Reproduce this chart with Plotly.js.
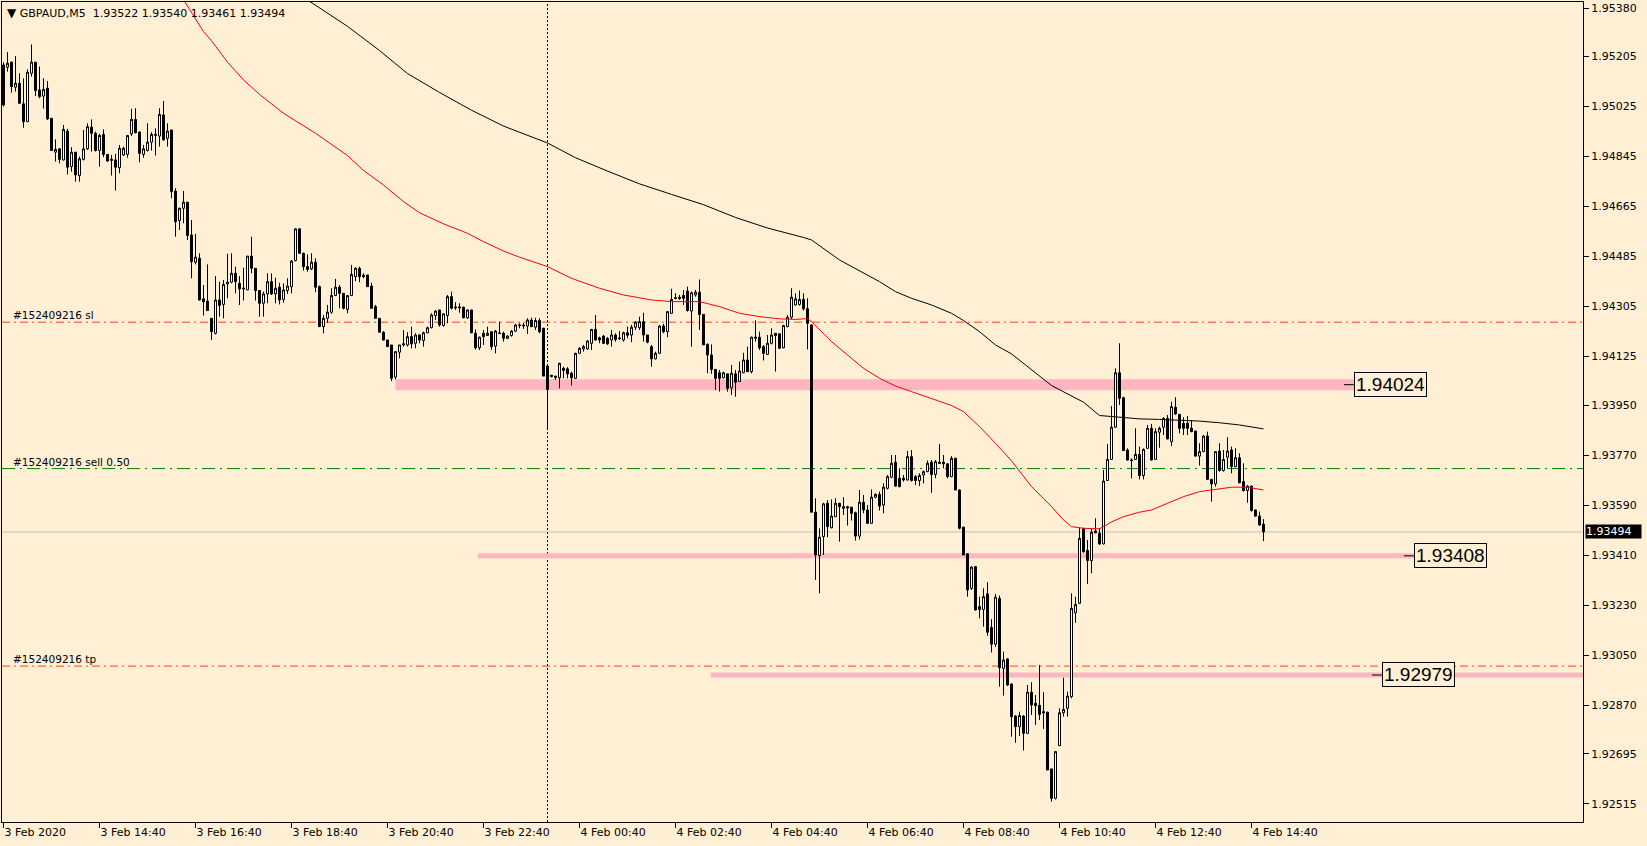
<!DOCTYPE html>
<html><head><meta charset="utf-8">
<script src="https://cdn.plot.ly/plotly-3.0.1.min.js"></script>
<style>html,body{margin:0;padding:0;background:#FFEFD5;} #chart{width:1647px;height:846px;}</style>
</head><body><div id="chart"></div>
<script>
const symbol = 'GBPAUD,M5';

const open = [
1.95175,1.95167,1.95185,1.95095,1.95109,1.95035,1.94971,1.95145,1.95185,1.95085,
1.95063,1.95091,1.94983,1.94861,1.94873,1.94833,1.94937,1.94809,1.94861,1.94777,
1.94835,1.94873,1.94951,1.94929,1.94867,1.94925,1.94853,1.94835,1.94833,1.94805,
1.94851,1.94853,1.94927,1.94979,1.94934,1.94853,1.94867,1.94897,1.94921,1.94919,
1.94995,1.94911,1.94941,1.94721,1.94615,1.94659,1.94681,1.94563,1.94465,1.94479,
1.94333,1.94325,1.94263,1.94209,1.94329,1.94313,1.94387,1.94393,1.94425,1.94389,
1.94369,1.94365,1.94487,1.94443,1.94363,1.94317,1.94351,1.94395,1.94351,1.94375,
1.94331,1.94363,1.94377,1.94471,1.94585,1.94497,1.94449,1.94441,1.94465,1.94377,
1.94233,1.94263,1.94285,1.94345,1.94375,1.94353,1.94295,1.94345,1.94413,1.94443,
1.94418,1.94419,1.94379,1.94305,1.94263,1.94213,1.94185,1.94167,1.94051,1.94141,
1.94167,1.94167,1.94197,1.94173,1.94203,1.94183,1.94211,1.94229,1.94273,1.94293,
1.94237,1.94273,1.94341,1.94304,1.94304,1.94303,1.94265,1.94293,1.94209,1.94157,
1.94209,1.94201,1.94215,1.94163,1.94208,1.94209,1.94191,1.94201,1.94217,1.94237,
1.94239,1.94235,1.94257,1.94231,1.94255,1.94227,1.94091,1.94058,1.94055,1.94049,
1.94083,1.94081,1.94065,1.94047,1.94137,1.94153,1.94153,1.94173,1.94223,1.94193,
1.94199,1.94191,1.94185,1.94203,1.94190,1.94185,1.94211,1.94203,1.94231,1.94229,
1.94251,1.94203,1.94161,1.94117,1.94137,1.94235,1.94215,1.94281,1.94337,1.94339,
1.94345,1.94361,1.94289,1.94347,1.94357,1.94277,1.94169,1.94131,1.94079,1.94067,
1.94049,1.94063,1.94013,1.94063,1.94035,1.94067,1.94113,1.94071,1.94191,1.94195,
1.94161,1.94133,1.94173,1.94209,1.94207,1.94157,1.94233,1.94267,1.94311,1.94313,
1.94331,1.94297,1.94239,1.93565,1.93409,1.93477,1.93597,1.93509,1.93549,1.93597,
1.93585,1.93585,1.93583,1.93563,1.93479,1.93601,1.93573,1.93525,1.93619,1.93629,
1.93591,1.93651,1.93691,1.93745,1.93687,1.93687,1.93681,1.93765,1.93693,1.93679,
1.93699,1.93711,1.93745,1.93701,1.93745,1.93745,1.93739,1.93693,1.93759,1.93645,
1.93511,1.93415,1.93291,1.93369,1.93225,1.93215,1.93271,1.93150,1.93090,1.93255,
1.93003,1.93037,1.92947,1.92831,1.92793,1.92831,1.92769,1.92917,1.92877,1.92870,
1.92847,1.92845,1.92641,1.92535,1.92725,1.92843,1.92859,1.92901,1.93203,1.93237,
1.93505,1.93427,1.93391,1.93497,1.93489,1.93451,1.93679,1.93755,1.93871,1.94067,
1.93977,1.93789,1.93753,1.93755,1.93773,1.93697,1.93795,1.93867,1.93755,1.93853,
1.93871,1.93903,1.93819,1.93943,1.93917,1.93885,1.93885,1.93867,1.93857,1.93767,
1.93783,1.93839,1.93683,1.93667,1.93785,1.93715,1.93763,1.93789,1.93729,1.93761,
1.93675,1.93643,1.93659,1.93573,1.93551,1.93522];

const high = [
1.95185,1.95221,1.95187,1.95207,1.95145,1.95127,1.95159,1.95249,1.95185,1.95169,
1.95127,1.95117,1.94983,1.94907,1.94873,1.94959,1.94945,1.94879,1.94861,1.94845,
1.94941,1.94965,1.94979,1.94935,1.94927,1.94943,1.94853,1.94851,1.94855,1.94887,
1.94881,1.94923,1.95017,1.95019,1.94934,1.94887,1.94965,1.94933,1.94947,1.95019,
1.95045,1.94965,1.94941,1.94731,1.94661,1.94721,1.94681,1.94617,1.94567,1.94497,
1.94383,1.94457,1.94263,1.94415,1.94395,1.94401,1.94495,1.94497,1.94449,1.94415,
1.94445,1.94487,1.94557,1.94443,1.94363,1.94359,1.94425,1.94425,1.94409,1.94391,
1.94389,1.94407,1.94473,1.94587,1.94585,1.94499,1.94493,1.94497,1.94479,1.94381,
1.94275,1.94311,1.94371,1.94405,1.94383,1.94353,1.94347,1.94455,1.94447,1.94449,
1.94425,1.94419,1.94391,1.94311,1.94263,1.94217,1.94185,1.94167,1.94143,1.94167,
1.94221,1.94213,1.94233,1.94209,1.94205,1.94215,1.94233,1.94281,1.94293,1.94293,
1.94281,1.94347,1.94359,1.94321,1.94317,1.94305,1.94295,1.94293,1.94223,1.94197,
1.94221,1.94233,1.94215,1.94221,1.94251,1.94215,1.94202,1.94221,1.94243,1.94245,
1.94247,1.94263,1.94265,1.94265,1.94263,1.94229,1.94095,1.94058,1.94055,1.94103,
1.94089,1.94087,1.94071,1.94139,1.94159,1.94167,1.94185,1.94225,1.94275,1.94197,
1.94203,1.94195,1.94221,1.94209,1.94217,1.94215,1.94233,1.94239,1.94253,1.94269,
1.94283,1.94203,1.94167,1.94143,1.94239,1.94243,1.94289,1.94369,1.94353,1.94347,
1.94365,1.94377,1.94359,1.94365,1.94403,1.94277,1.94173,1.94169,1.94079,1.94077,
1.94071,1.94063,1.94095,1.94077,1.94107,1.94139,1.94161,1.94197,1.94255,1.94215,
1.94167,1.94203,1.94227,1.94209,1.94209,1.94239,1.94275,1.94371,1.94353,1.94363,
1.94353,1.94335,1.94241,1.93615,1.93507,1.93599,1.93609,1.93611,1.93615,1.93599,
1.93619,1.93588,1.93585,1.93567,1.93645,1.93627,1.93591,1.93647,1.93633,1.93639,
1.93669,1.93699,1.93771,1.93771,1.93723,1.93699,1.93785,1.93789,1.93699,1.93705,
1.93715,1.93751,1.93753,1.93753,1.93811,1.93771,1.93741,1.93767,1.93761,1.93647,
1.93513,1.93417,1.93371,1.93371,1.93261,1.93291,1.93313,1.93180,1.93270,1.93265,
1.93063,1.93039,1.92947,1.92835,1.92847,1.92835,1.92943,1.92953,1.92907,1.93015,
1.92917,1.92847,1.92641,1.92705,1.92859,1.92969,1.92919,1.93273,1.93261,1.93509,
1.93509,1.93465,1.93507,1.93543,1.93507,1.93717,1.93811,1.93947,1.94083,1.94173,
1.93981,1.93795,1.93759,1.93867,1.93801,1.93795,1.93879,1.93883,1.93867,1.93873,
1.93907,1.93915,1.93963,1.93979,1.93919,1.93907,1.93911,1.93897,1.93859,1.93813,
1.93843,1.93855,1.93685,1.93785,1.93813,1.93789,1.93835,1.93801,1.93795,1.93777,
1.93741,1.93663,1.93661,1.93575,1.93567,1.93540];

const low = [
1.95025,1.95151,1.95075,1.95079,1.95035,1.94949,1.94969,1.95133,1.95063,1.95055,
1.95018,1.94977,1.94867,1.94827,1.94821,1.94831,1.94781,1.94791,1.94755,1.94755,
1.94831,1.94869,1.94863,1.94863,1.94809,1.94843,1.94827,1.94777,1.94723,1.94785,
1.94847,1.94841,1.94919,1.94929,1.94825,1.94841,1.94863,1.94867,1.94849,1.94881,
1.94903,1.94881,1.94695,1.94557,1.94581,1.94605,1.94545,1.94407,1.94457,1.94327,
1.94273,1.94291,1.94185,1.94205,1.94269,1.94263,1.94335,1.94389,1.94353,1.94311,
1.94327,1.94365,1.94425,1.94327,1.94269,1.94269,1.94317,1.94347,1.94317,1.94313,
1.94319,1.94351,1.94353,1.94468,1.94495,1.94435,1.94431,1.94437,1.94357,1.94233,
1.94209,1.94247,1.94279,1.94343,1.94299,1.94295,1.94281,1.94343,1.94397,1.94393,
1.94407,1.94377,1.94299,1.94261,1.94213,1.94183,1.94161,1.94037,1.94043,1.94119,
1.94161,1.94161,1.94155,1.94155,1.94173,1.94161,1.94209,1.94227,1.94257,1.94233,
1.94233,1.94245,1.94295,1.94293,1.94283,1.94263,1.94261,1.94209,1.94151,1.94149,
1.94167,1.94201,1.94149,1.94137,1.94207,1.94179,1.94188,1.94197,1.94213,1.94227,
1.94225,1.94207,1.94231,1.94221,1.94209,1.94055,1.93861,1.94050,1.94041,1.94011,
1.94047,1.94047,1.94021,1.94045,1.94135,1.94143,1.94149,1.94149,1.94183,1.94173,
1.94171,1.94167,1.94161,1.94179,1.94185,1.94179,1.94191,1.94177,1.94221,1.94221,
1.94179,1.94173,1.94089,1.94115,1.94135,1.94209,1.94195,1.94279,1.94331,1.94329,
1.94311,1.94287,1.94161,1.94341,1.94221,1.94167,1.94065,1.94063,1.94005,1.93999,
1.94047,1.93999,1.93987,1.93981,1.94035,1.94065,1.94071,1.94065,1.94179,1.94149,
1.94111,1.94131,1.94169,1.94071,1.94153,1.94155,1.94231,1.94261,1.94309,1.94309,
1.94291,1.94151,1.93565,1.93321,1.93273,1.93411,1.93475,1.93507,1.93547,1.93459,
1.93555,1.93517,1.93535,1.93463,1.93467,1.93561,1.93523,1.93523,1.93615,1.93571,
1.93561,1.93647,1.93687,1.93657,1.93655,1.93675,1.93679,1.93675,1.93663,1.93659,
1.93669,1.93709,1.93635,1.93687,1.93739,1.93723,1.93687,1.93691,1.93645,1.93503,
1.93411,1.93261,1.93285,1.93211,1.93183,1.93153,1.93120,1.93060,1.93080,1.92937,
1.92905,1.92939,1.92757,1.92735,1.92759,1.92707,1.92767,1.92835,1.92799,1.92817,
1.92785,1.92637,1.92523,1.92531,1.92723,1.92829,1.92829,1.92895,1.93167,1.93235,
1.93419,1.93307,1.93345,1.93489,1.93447,1.93449,1.93677,1.93753,1.93869,1.93951,
1.93787,1.93751,1.93687,1.93753,1.93683,1.93683,1.93793,1.93751,1.93753,1.93797,
1.93843,1.93827,1.93803,1.93915,1.93849,1.93843,1.93843,1.93853,1.93765,1.93733,
1.93781,1.93683,1.93603,1.93657,1.93711,1.93711,1.93723,1.93705,1.93727,1.93669,
1.93639,1.93599,1.93567,1.93549,1.93517,1.93461];

const close = [
1.95031,1.95181,1.95097,1.95109,1.95037,1.94971,1.95149,1.95185,1.95083,1.95061,
1.95087,1.94981,1.94867,1.94871,1.94835,1.94943,1.94807,1.94861,1.94779,1.94837,
1.94873,1.94953,1.94929,1.94867,1.94921,1.94853,1.94829,1.94832,1.94807,1.94875,
1.94875,1.94921,1.94979,1.94931,1.94857,1.94873,1.94897,1.94925,1.94925,1.94997,
1.94905,1.94937,1.94719,1.94611,1.94659,1.94681,1.94561,1.94467,1.94483,1.94329,
1.94323,1.94291,1.94215,1.94329,1.94309,1.94385,1.94393,1.94425,1.94395,1.94369,
1.94371,1.94487,1.94443,1.94363,1.94317,1.94351,1.94395,1.94351,1.94371,1.94329,
1.94365,1.94379,1.94469,1.94585,1.94497,1.94449,1.94439,1.94465,1.94375,1.94233,
1.94263,1.94285,1.94345,1.94375,1.94353,1.94299,1.94345,1.94421,1.94443,1.94413,
1.94413,1.94377,1.94299,1.94263,1.94213,1.94185,1.94161,1.94047,1.94143,1.94167,
1.94171,1.94197,1.94171,1.94203,1.94185,1.94211,1.94229,1.94275,1.94289,1.94239,
1.94279,1.94341,1.94299,1.94301,1.94301,1.94265,1.94293,1.94211,1.94157,1.94195,
1.94197,1.94209,1.94161,1.94217,1.94210,1.94191,1.94199,1.94217,1.94239,1.94239,
1.94236,1.94257,1.94233,1.94255,1.94215,1.94055,1.94007,1.94054,1.94051,1.94101,
1.94075,1.94063,1.94049,1.94137,1.94155,1.94161,1.94181,1.94223,1.94185,1.94185,
1.94173,1.94171,1.94203,1.94187,1.94192,1.94211,1.94202,1.94231,1.94249,1.94251,
1.94203,1.94177,1.94117,1.94137,1.94235,1.94215,1.94287,1.94331,1.94335,1.94335,
1.94335,1.94291,1.94355,1.94357,1.94277,1.94167,1.94131,1.94079,1.94047,1.94047,
1.94067,1.94011,1.94065,1.94033,1.94073,1.94113,1.94071,1.94195,1.94195,1.94157,
1.94137,1.94173,1.94203,1.94201,1.94155,1.94237,1.94267,1.94339,1.94333,1.94331,
1.94297,1.94245,1.93565,1.93411,1.93475,1.93595,1.93513,1.93551,1.93597,1.93585,
1.93579,1.93580,1.93561,1.93479,1.93601,1.93573,1.93525,1.93619,1.93629,1.93587,
1.93655,1.93693,1.93741,1.93659,1.93657,1.93681,1.93765,1.93679,1.93679,1.93697,
1.93711,1.93741,1.93701,1.93747,1.93741,1.93739,1.93693,1.93759,1.93645,1.93507,
1.93411,1.93285,1.93367,1.93213,1.93215,1.93261,1.93133,1.93090,1.93259,1.93005,
1.93033,1.92943,1.92829,1.92793,1.92833,1.92769,1.92917,1.92871,1.92869,1.92837,
1.92843,1.92637,1.92535,1.92703,1.92843,1.92855,1.92903,1.93219,1.93233,1.93471,
1.93423,1.93391,1.93493,1.93491,1.93451,1.93677,1.93755,1.93871,1.94067,1.93975,
1.93787,1.93753,1.93751,1.93773,1.93697,1.93791,1.93867,1.93753,1.93855,1.93867,
1.93903,1.93829,1.93945,1.93919,1.93867,1.93867,1.93867,1.93855,1.93767,1.93783,
1.93839,1.93683,1.93667,1.93783,1.93715,1.93755,1.93785,1.93729,1.93761,1.93671,
1.93643,1.93659,1.93571,1.93551,1.93519,1.93494];

// x-axis: bar index of each label and its text
const xTickBars = [0,24,48,72,96,120,144,168,192,216,240,264,288,312];
const xTickLabels = ['3 Feb 2020','3 Feb 14:40','3 Feb 16:40','3 Feb 18:40','3 Feb 20:40','3 Feb 22:40',
  '4 Feb 00:40','4 Feb 02:40','4 Feb 04:40','4 Feb 06:40','4 Feb 08:40','4 Feb 10:40','4 Feb 12:40','4 Feb 14:40'];
const yTickVals = [1.95380,1.95205,1.95025,1.94845,1.94665,1.94485,1.94305,1.94125,1.93950,1.93770,
  1.93590,1.93410,1.93230,1.93050,1.92870,1.92695,1.92515];

// moving averages (read at sample bars)
const redMaBars = [45,50,52,56,60,64,70,78,86,90,95,100,104,110,116,120,125,129,136,142,149,155,162,167,174,179,184,189,194,198,201,202,207,211,215,219,223,227,232,237,240,244,248,252,257,262,265,267,270,274,277,280,284,287,291,295,299,303,307,311,315];
const redMaVals = [1.95410,1.95295,1.95262,1.95185,1.95121,1.95069,1.95001,1.94929,1.94849,1.94795,1.94743,1.94683,1.94643,1.94603,1.94569,1.94539,1.94505,1.94483,1.94449,1.94407,1.94371,1.94347,1.94329,1.94323,1.94323,1.94305,1.94281,1.94269,1.94261,1.94259,1.94262,1.94251,1.94179,1.94131,1.94083,1.94047,1.94019,1.93999,1.93975,1.93949,1.93927,1.93873,1.93813,1.93750,1.93657,1.93585,1.93537,1.93513,1.93507,1.93505,1.93530,1.93549,1.93565,1.93573,1.93597,1.93621,1.93639,1.93647,1.93655,1.93655,1.93645];
const blackMaBars = [72,76,86,94,101,109,117,125,136,143,151,159,167,175,183,191,200,202,209,215,219,223,227,232,237,240,244,248,252,262,270,274,279,284,289,294,299,304,309,315];
const blackMaVals = [1.95470,1.95409,1.95314,1.95227,1.95144,1.95076,1.95012,1.94955,1.94894,1.94841,1.94793,1.94747,1.94709,1.94672,1.94626,1.94588,1.94554,1.94545,1.94473,1.94425,1.94395,1.94359,1.94335,1.94311,1.94281,1.94255,1.94215,1.94167,1.94135,1.94021,1.93961,1.93913,1.93907,1.93901,1.93899,1.93897,1.93893,1.93887,1.93879,1.93865];

// order lines
const orderTicket = '#152409216';
const orderNames = ['sl','sell 0.50','tp'];
const orderPrices = [1.94249, 1.93722, 1.93011];
// price-label trend lines
const levelPrices = [1.94024, 1.93408, 1.92979];
const levelStartBars = [98, 118.6, 176.8];
const markerBar = 136;

// ---------- styling / layout ----------
const BG = '#FFEFD5';
const PINK = '#FFB6C1';
const ORDER_COLORS = ['#FF4500', '#008000', '#FF4500'];
const ORDER_DASH = ['8px,4px,2px,4px', '13px,5px,2px,5px', '8px,4px,2px,4px'];
const LEVEL_WIDTHS = [11, 5, 5];
const LEVEL_LABEL_BARS = [337.6, 352.6, 344.6];
const LEVEL_EXTEND_RIGHT = [false, false, true];
const XR = [-0.375, 394.875];
const YR = [1.924498, 1.954016];

const bars = open.map((_, i) => i);
const last = open.length - 1;
const f5 = v => v.toFixed(5);

const traces = [
  {type:'scatter', mode:'lines', x: redMaBars, y: redMaVals, line:{color:'#FF0000', width:1}, hoverinfo:'skip', showlegend:false},
  {type:'scatter', mode:'lines', x: blackMaBars, y: blackMaVals, line:{color:'#000000', width:1}, hoverinfo:'skip', showlegend:false},
  {type:'candlestick', x: bars, open, high, low, close,
   increasing:{line:{color:'#000000', width:1}, fillcolor:'#FFFFFF'},
   decreasing:{line:{color:'#000000', width:1}, fillcolor:'#000000'},
   whiskerwidth:0, hoverinfo:'skip', showlegend:false}
];

const shapes = [];
const annotations = [];

// order lines
orderPrices.forEach((p, k) => {
  shapes.push({type:'line', layer:'below', xref:'paper', x0:0, x1:1, yref:'y', y0:p, y1:p,
    line:{color:ORDER_COLORS[k], width:1, dash:ORDER_DASH[k]}});
  annotations.push({xref:'paper', x:0, xanchor:'left', xshift:9, yref:'y', y:p, yanchor:'bottom', yshift:-1,
    text: orderTicket + ' ' + orderNames[k], showarrow:false, font:{family:'DejaVu Sans', size:10.5, color:'#000'}});
});
// current bid line
shapes.push({type:'line', layer:'below', xref:'paper', x0:0, x1:1, yref:'y', y0:close[last], y1:close[last],
  line:{color:'#C0C0C0', width:1}});
// vertical dotted marker
shapes.push({type:'line', layer:'below', xref:'x', x0:markerBar, x1:markerBar, yref:'paper', y0:0, y1:1,
  line:{color:'#000000', width:1, dash:'2px,2px'}});
// pink level lines + labels
levelPrices.forEach((p, k) => {
  shapes.push({type:'line', layer:'below', xref:'x', x0:levelStartBars[k], x1: LEVEL_EXTEND_RIGHT[k] ? XR[1] : LEVEL_LABEL_BARS[k],
    yref:'y', y0:p, y1:p, line:{color:PINK, width:LEVEL_WIDTHS[k]}});
  shapes.push({type:'line', layer:'above', xref:'x', x0:LEVEL_LABEL_BARS[k]-2.5, x1:LEVEL_LABEL_BARS[k],
    yref:'y', y0:p, y1:p, line:{color:'#000000', width:1}});
  annotations.push({xref:'x', x:LEVEL_LABEL_BARS[k], xanchor:'left', yref:'y', y:p, yanchor:'middle',
    text:f5(p), showarrow:false, bgcolor:BG, bordercolor:'#000000', borderwidth:1, borderpad:1,
    font:{family:'Liberation Sans, Arial', size:19, color:'#000'}});
});
// current price tag on the axis
annotations.push({xref:'paper', x:1, xanchor:'left', xshift:2, yref:'y', y:close[last], yanchor:'middle',
  text:f5(close[last]), showarrow:false, bgcolor:'#000000', borderpad:0, width:55, align:'left',
  font:{family:'DejaVu Sans', size:11, color:'#FFFFFF'}});
// header
annotations.push({xref:'paper', x:0, xanchor:'left', xshift:3, yref:'paper', y:1, yanchor:'top', yshift:-2,
  text:'<span style="font-size:12px">▼</span>\u00a0' + symbol + '\u00a0 ' + [open[last], high[last], low[last], close[last]].map(f5).join(' '),
  showarrow:false, font:{family:'DejaVu Sans', size:11, color:'#000'}});

const layout = {
  width:1647, height:846,
  margin:{l:2, r:64, t:2, b:24, pad:0},
  paper_bgcolor:BG, plot_bgcolor:BG,
  font:{family:'DejaVu Sans', size:11, color:'#000'},
  showlegend:false,
  boxgap:0.5, boxgroupgap:0,
  xaxis:{range:XR, type:'linear', showgrid:false, zeroline:false, showline:true, mirror:true,
    linecolor:'#000', linewidth:1, ticks:'outside', ticklen:5, tickcolor:'#000', tickwidth:1,
    tickmode:'array', tickvals:xTickBars, ticktext:xTickLabels, ticklabelposition:'outside right',
    tickfont:{family:'DejaVu Sans', size:11, color:'#000'}, rangeslider:{visible:false}, fixedrange:true},
  yaxis:{range:YR, side:'right', showgrid:false, zeroline:false, showline:true, mirror:true,
    linecolor:'#000', linewidth:1, ticks:'outside', ticklen:5, tickcolor:'#000', tickwidth:1,
    tickmode:'array', tickvals:yTickVals, ticktext:yTickVals.map(f5),
    tickfont:{family:'DejaVu Sans', size:11, color:'#000'}, fixedrange:true},
  shapes, annotations
};

Plotly.newPlot('chart', traces, layout, {staticPlot:true, displayModeBar:false});
</script>
</body></html>
